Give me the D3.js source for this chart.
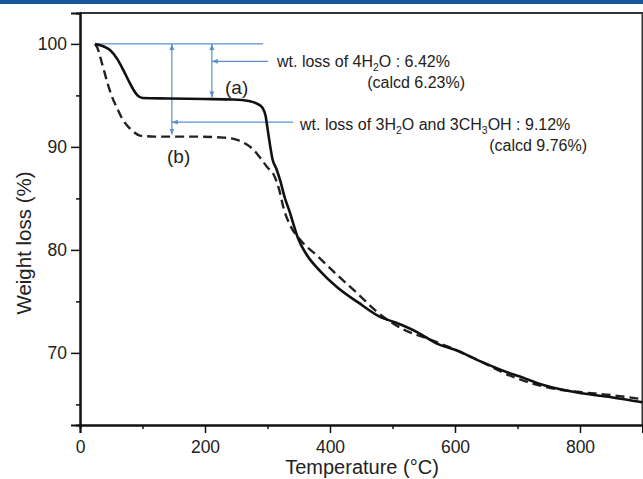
<!DOCTYPE html>
<html>
<head>
<meta charset="utf-8">
<script src="https://cdn.jsdelivr.net/npm/d3@7"></script>
<style>
  body { margin: 0; background: #fff; }
  text { font-family: "Liberation Sans", Arial, sans-serif; fill: #222; }
</style>
</head>
<body>
<div id="chart"></div>
<script>
// TGA curves, temperature (°C) vs weight (%)
var tempA = [24, 36, 48, 60, 69, 78, 85, 92, 100, 140, 200, 245, 270, 283, 292, 297, 300, 304, 308, 314, 320, 328, 336, 343, 349, 363, 385, 411, 445, 480, 507, 540, 571, 600, 640, 680, 704, 740, 800, 850, 900];
var weightA = [100, 99.8, 99.4, 98.5, 97.5, 96.4, 95.6, 95.0, 94.75, 94.7, 94.65, 94.6, 94.45, 94.2, 93.8, 93.0, 91.8, 90.2, 88.8, 87.9, 86.8, 85.0, 83.6, 82.2, 81.1, 79.5, 77.9, 76.4, 74.9, 73.5, 72.9, 72.0, 70.9, 70.3, 69.2, 68.2, 67.7, 66.9, 66.1, 65.7, 65.2];

var tempB = [24, 28, 32, 38, 44, 51, 59, 67, 75, 85, 96, 120, 180, 230, 250, 265, 278, 290, 300, 310, 318, 326, 336, 352, 380, 411, 445, 475, 517, 560, 597, 640, 680, 720, 760, 800, 850, 900];
var weightB = [100, 99.6, 98.8, 97.5, 96.2, 94.9, 93.8, 92.8, 92.1, 91.5, 91.1, 91.0, 91.0, 90.9, 90.7, 90.3, 89.7, 88.8, 88.0, 87.3, 86.0, 84.0, 82.4, 81.0, 79.4, 77.6, 75.7, 74.0, 72.3, 71.3, 70.4, 69.2, 68.0, 67.1, 66.5, 66.2, 65.9, 65.5];

var xMajor = [0, 200, 400, 600, 800];
var xMinor = [100, 300, 500, 700];
var yMajor = [70, 80, 90, 100];
var yMinor = [65, 75, 85, 95];

// annotation anchors (temperature, weight)
var baseLine = [[24, 100], [293, 100]];
var arrowVert = [[147, 100, 91.2], [211, 100, 94.8]];
var arrowHoriz = [[211, 301, 98.3], [147, 341, 92.4]];

var svgWidth = 643;
var svgHeight = 479;
var margin = { top: 13, right: 1, bottom: 54, left: 80 };

var svg = d3.select("#chart")
    .append("svg")
    .attr("width", svgWidth)
    .attr("height", svgHeight);

svg.append("rect")
    .attr("x", 0).attr("y", 0)
    .attr("width", svgWidth).attr("height", 4)
    .attr("fill", "#15599b");

var x = d3.scaleLinear().domain([0, 900]).range([margin.left, 642.5]);
var y = d3.scaleLinear().domain([63, 103]).range([svgHeight - margin.bottom, margin.top]);

// frame top / right
svg.append("path")
    .attr("d", `M${x(0)},${y(103)}H${x(900)}V${y(63)}`)
    .attr("fill", "none")
    .attr("stroke", "#333")
    .attr("stroke-width", 2);

var xAxis = svg.append("g")
    .attr("transform", `translate(0, ${y(63)})`)
    .call(d3.axisBottom(x).tickValues(xMajor).tickSize(8).tickPadding(8).tickFormat(d3.format("d")));
svg.append("g")
    .attr("transform", `translate(0, ${y(63)})`)
    .call(d3.axisBottom(x).tickValues(xMinor).tickSize(4).tickFormat(""));

var yAxis = svg.append("g")
    .attr("transform", `translate(${x(0)}, 0)`)
    .call(d3.axisLeft(y).tickValues(yMajor).tickSize(9).tickPadding(4));
svg.append("g")
    .attr("transform", `translate(${x(0)}, 0)`)
    .call(d3.axisLeft(y).tickValues(yMinor).tickSize(4).tickFormat(""));

svg.selectAll(".domain").attr("stroke", "#111").attr("stroke-width", 2);
svg.selectAll(".tick line").attr("stroke", "#111").attr("stroke-width", 1.5);
svg.selectAll(".tick text").style("font-size", "17.5px").attr("fill", "#333");

svg.append("text")
    .attr("x", 362).attr("y", 474)
    .attr("text-anchor", "middle")
    .style("font-size", "20px")
    .text("Temperature (°C)");

svg.append("text")
    .attr("transform", "translate(31, 243) rotate(-90)")
    .attr("text-anchor", "middle")
    .style("font-size", "20.5px")
    .text("Weight loss (%)");

// annotations
var blue = "#5a8fcf";
var defs = svg.append("defs");
defs.append("marker")
    .attr("id", "head")
    .attr("viewBox", "0 0 10 10")
    .attr("refX", 10).attr("refY", 5)
    .attr("markerWidth", 5).attr("markerHeight", 5)
    .attr("orient", "auto-start-reverse")
    .append("path")
    .attr("d", "M0,1L10,5L0,9Z")
    .attr("fill", blue);

svg.append("line")
    .attr("x1", x(baseLine[0][0])).attr("y1", y(baseLine[0][1]))
    .attr("x2", x(baseLine[1][0])).attr("y2", y(baseLine[1][1]))
    .attr("stroke", blue).attr("stroke-width", 1.2);

svg.selectAll(".vArrow")
    .data(arrowVert)
    .enter()
    .append("line")
    .attr("x1", d => x(d[0])).attr("x2", d => x(d[0]))
    .attr("y1", d => y(d[1])).attr("y2", d => y(d[2]))
    .attr("stroke", blue).attr("stroke-width", 1.2)
    .attr("marker-start", "url(#head)")
    .attr("marker-end", "url(#head)");

svg.selectAll(".hArrow")
    .data(arrowHoriz)
    .enter()
    .append("line")
    .attr("x1", d => x(d[1])).attr("x2", d => x(d[0]))
    .attr("y1", d => y(d[2])).attr("y2", d => y(d[2]))
    .attr("stroke", blue).attr("stroke-width", 1.2)
    .attr("marker-end", "url(#head)");

var line = d3.line()
    .x(d => x(d[0]))
    .y(d => y(d[1]))
    .curve(d3.curveMonotoneX);

svg.append("path")
    .datum(d3.zip(tempB, weightB))
    .attr("d", line)
    .attr("fill", "none")
    .attr("stroke", "#222")
    .attr("stroke-width", 2.4)
    .attr("stroke-dasharray", "9,5");

svg.append("path")
    .datum(d3.zip(tempA, weightA))
    .attr("d", line)
    .attr("fill", "none")
    .attr("stroke", "#111")
    .attr("stroke-width", 2.6);

function note(tx, ty, anchor, size, parts) {
    var t = svg.append("text")
        .attr("x", tx).attr("y", ty)
        .attr("text-anchor", anchor)
        .style("font-size", size + "px");
    parts.forEach(function(p) {
        var s = t.append("tspan").text(p[0]);
        if (p[1]) s.attr("dy", 4).style("font-size", (size * 0.65) + "px");
        if (p[2]) s.attr("dy", -4);
    });
}

note(277, 67, "start", 16, [["wt. loss of 4H"], ["2", true], ["O : 6.42%", false, true]]);
note(465, 88, "end", 16, [["(calcd 6.23%)"]]);
note(300, 130, "start", 16, [["wt. loss of 3H"], ["2", true], ["O and 3CH", false, true], ["3", true], ["OH : 9.12%", false, true]]);
note(587, 151, "end", 16, [["(calcd 9.76%)"]]);
note(225, 94, "start", 19, [["(a)"]]);
note(167, 163, "start", 19, [["(b)"]]);
</script>
</body>
</html>
